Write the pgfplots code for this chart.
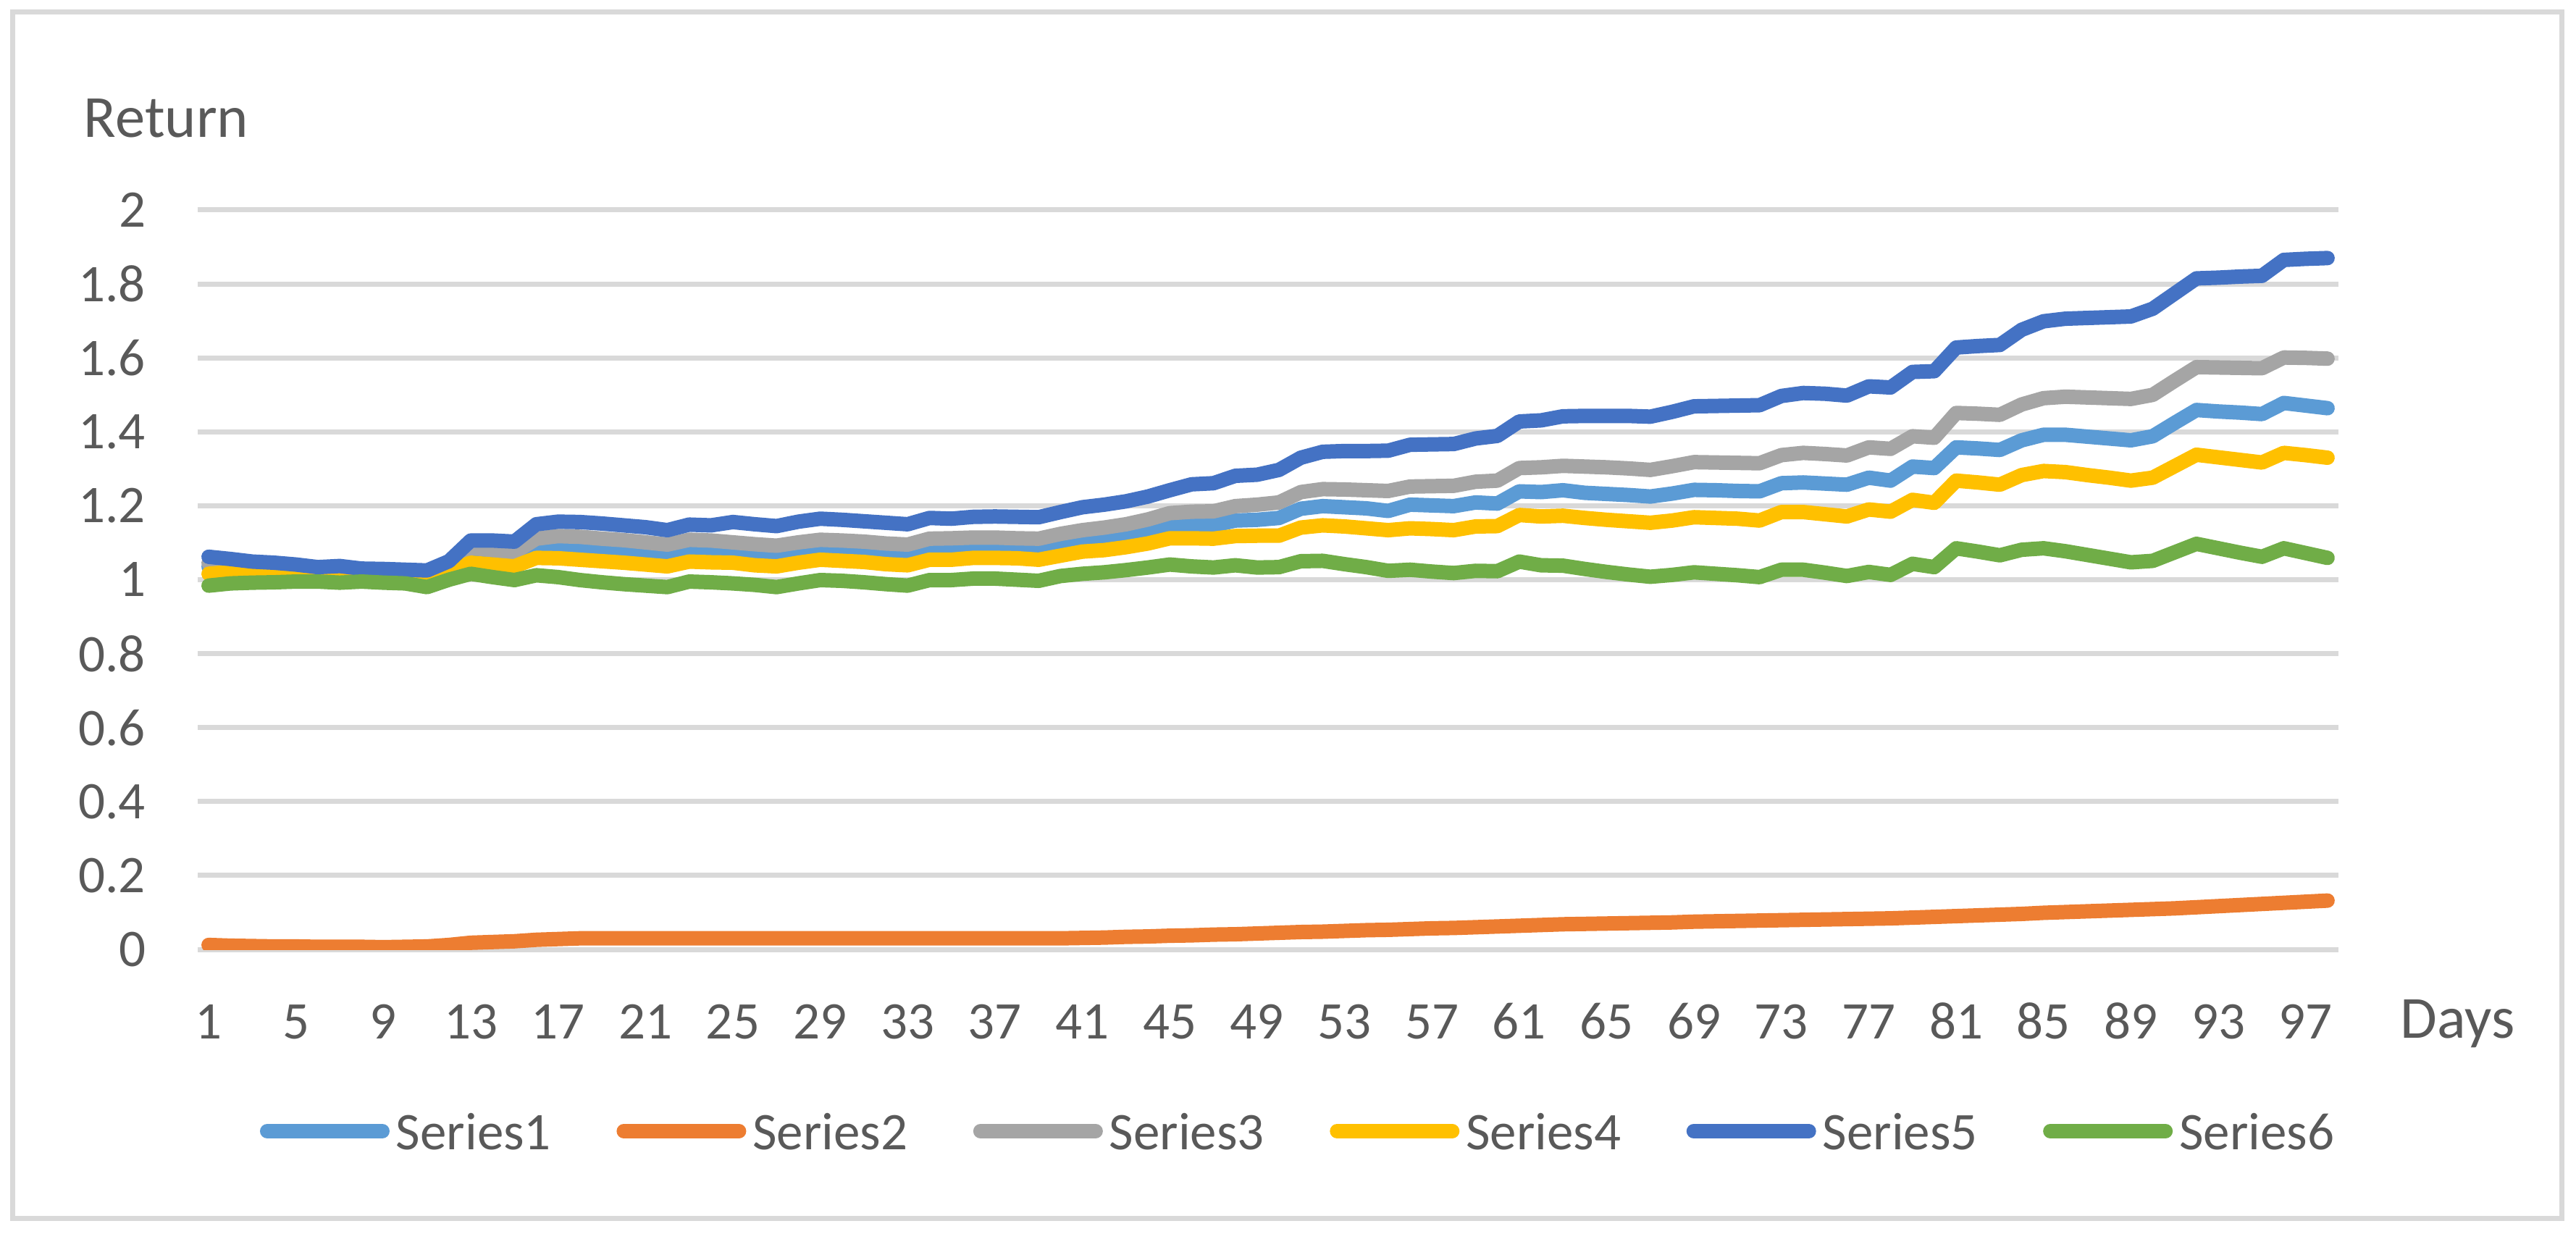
\documentclass[border=0pt]{standalone}
\usepackage{fontspec}
\setmainfont{Carlito}
\usepackage{pgfplots}
\usepackage{pgfplotstable}
\pgfplotsset{compat=1.18}
\definecolor{sA}{HTML}{5B9BD5}
\definecolor{sB}{HTML}{ED7D31}
\definecolor{sC}{HTML}{A5A5A5}
\definecolor{sD}{HTML}{FFC000}
\definecolor{sE}{HTML}{4472C4}
\definecolor{sF}{HTML}{70AD47}
\definecolor{gridc}{HTML}{D9D9D9}
\definecolor{textc}{HTML}{595959}
\newcommand{\cf}{\fontsize{14.6bp}{17.5bp}\selectfont}
\newcommand{\tf}{\fontsize{16.5bp}{19.8bp}\selectfont}

\pgfplotstableread{
d s1 s2 s3 s4 s5 s6
1 1.035 0.012 1.045 1.016 1.062 0.984
2 1.032 0.010 1.040 1.021 1.056 0.990
3 1.030 0.009 1.036 1.025 1.049 0.992
4 1.028 0.008 1.034 1.023 1.046 0.993
5 1.026 0.008 1.031 1.021 1.041 0.995
6 1.024 0.007 1.027 1.020 1.034 0.995
7 1.024 0.007 1.028 1.016 1.037 0.992
8 1.022 0.007 1.024 1.016 1.030 0.995
9 1.020 0.006 1.023 1.013 1.029 0.992
10 1.018 0.007 1.020 1.010 1.027 0.990
11 1.015 0.008 1.017 1.007 1.025 0.980
12 1.030 0.012 1.035 1.023 1.050 1.000
13 1.075 0.018 1.086 1.046 1.106 1.016
14 1.068 0.020 1.080 1.041 1.106 1.007
15 1.063 0.022 1.074 1.036 1.103 0.999
16 1.083 0.026 1.111 1.059 1.150 1.012
17 1.087 0.028 1.118 1.058 1.157 1.007
18 1.084 0.030 1.116 1.054 1.156 0.999
19 1.080 0.030 1.111 1.050 1.152 0.993
20 1.076 0.030 1.107 1.046 1.147 0.988
21 1.072 0.030 1.101 1.041 1.142 0.984
22 1.066 0.030 1.095 1.036 1.134 0.980
23 1.078 0.030 1.108 1.049 1.149 0.995
24 1.076 0.030 1.106 1.047 1.147 0.993
25 1.074 0.030 1.101 1.046 1.156 0.990
26 1.067 0.030 1.096 1.039 1.150 0.986
27 1.063 0.030 1.092 1.036 1.145 0.980
28 1.072 0.030 1.101 1.046 1.157 0.990
29 1.080 0.030 1.108 1.054 1.165 0.999
30 1.078 0.030 1.106 1.051 1.162 0.997
31 1.075 0.030 1.103 1.048 1.158 0.993
32 1.071 0.030 1.098 1.042 1.154 0.988
33 1.068 0.030 1.095 1.039 1.150 0.984
34 1.082 0.030 1.111 1.054 1.167 0.999
35 1.082 0.030 1.112 1.054 1.165 0.999
36 1.087 0.030 1.114 1.059 1.170 1.003
37 1.086 0.030 1.114 1.059 1.171 1.003
38 1.084 0.030 1.112 1.058 1.170 1.000
39 1.082 0.030 1.111 1.054 1.169 0.997
40 1.095 0.030 1.124 1.065 1.183 1.010
41 1.108 0.031 1.134 1.076 1.196 1.016
42 1.114 0.032 1.141 1.080 1.203 1.020
43 1.124 0.034 1.150 1.088 1.212 1.026
44 1.134 0.035 1.163 1.098 1.225 1.033
45 1.147 0.037 1.180 1.112 1.242 1.041
46 1.147 0.038 1.184 1.112 1.258 1.036
47 1.147 0.040 1.185 1.111 1.261 1.033
48 1.160 0.041 1.199 1.118 1.281 1.039
49 1.162 0.043 1.203 1.119 1.284 1.033
50 1.167 0.045 1.209 1.119 1.297 1.034
51 1.192 0.047 1.237 1.141 1.330 1.050
52 1.199 0.048 1.245 1.147 1.346 1.051
53 1.196 0.050 1.244 1.144 1.348 1.042
54 1.193 0.052 1.242 1.139 1.348 1.034
55 1.186 0.053 1.240 1.134 1.349 1.024
56 1.203 0.055 1.252 1.139 1.365 1.027
57 1.201 0.057 1.253 1.137 1.366 1.022
58 1.199 0.058 1.254 1.134 1.367 1.018
59 1.209 0.060 1.265 1.144 1.382 1.024
60 1.206 0.062 1.268 1.145 1.389 1.023
61 1.239 0.064 1.302 1.175 1.428 1.049
62 1.237 0.066 1.304 1.171 1.431 1.039
63 1.242 0.068 1.308 1.173 1.442 1.038
64 1.235 0.069 1.306 1.167 1.443 1.029
65 1.232 0.070 1.304 1.162 1.443 1.021
66 1.229 0.071 1.301 1.158 1.443 1.014
67 1.225 0.072 1.297 1.154 1.441 1.008
68 1.233 0.073 1.307 1.160 1.454 1.013
69 1.243 0.075 1.318 1.169 1.469 1.020
70 1.242 0.076 1.317 1.167 1.470 1.016
71 1.240 0.077 1.316 1.165 1.471 1.012
72 1.239 0.078 1.315 1.160 1.472 1.007
73 1.261 0.079 1.337 1.183 1.497 1.027
74 1.263 0.080 1.343 1.183 1.505 1.027
75 1.260 0.081 1.340 1.177 1.503 1.019
76 1.257 0.082 1.336 1.171 1.498 1.010
77 1.276 0.083 1.358 1.190 1.523 1.021
78 1.268 0.084 1.354 1.184 1.520 1.013
79 1.306 0.086 1.388 1.216 1.562 1.043
80 1.302 0.088 1.384 1.208 1.564 1.034
81 1.358 0.090 1.451 1.268 1.628 1.085
82 1.355 0.092 1.449 1.263 1.632 1.076
83 1.351 0.094 1.446 1.257 1.635 1.066
84 1.377 0.096 1.474 1.283 1.676 1.081
85 1.392 0.099 1.491 1.294 1.699 1.085
86 1.392 0.101 1.495 1.291 1.706 1.077
87 1.387 0.103 1.493 1.283 1.708 1.067
88 1.382 0.105 1.491 1.276 1.710 1.057
89 1.377 0.107 1.489 1.268 1.712 1.047
90 1.388 0.109 1.500 1.276 1.733 1.051
91 1.424 0.111 1.538 1.307 1.774 1.074
92 1.459 0.114 1.575 1.338 1.815 1.097
93 1.455 0.117 1.574 1.331 1.817 1.085
94 1.452 0.120 1.573 1.324 1.820 1.073
95 1.448 0.123 1.572 1.317 1.822 1.062
96 1.478 0.126 1.601 1.343 1.865 1.085
97 1.471 0.129 1.600 1.337 1.868 1.072
98 1.464 0.132 1.598 1.330 1.870 1.059
}\datatable

\begin{document}
\begin{tikzpicture}
\useasboundingbox (-54.6bp,-78.6bp) rectangle (656.8bp,262.2bp);
\fill[white] (-54.6bp,-78.6bp) rectangle (656.8bp,262.2bp);
\draw[gridc, line width=1.4bp] (-51bp,-74.2bp) rectangle (652.8bp,258.8bp);
\begin{axis}[
  scale only axis,
  width=591.2bp, height=204.2bp,
  xmin=0.5, xmax=98.5, ymin=0, ymax=2,
  clip mode=individual,
  xtick={1,5,...,97},
  ytick={0,0.2,0.4,0.6,0.8,1,1.2,1.4,1.6,1.8,2},
  ymajorgrids,
  grid style={gridc, line width=1.4bp},
  axis line style={draw=none},
  major tick style={draw=none},
  tick label style={font=\cf, text=textc, inner sep=0pt},
  /pgf/number format/assume math mode=true,
  yticklabel style={anchor=east, xshift=-14.2bp},
  xticklabel style={anchor=base, yshift=-24.6bp},
  every axis plot/.append style={line width=4bp, line join=round, line cap=round},
  legend columns=6,
  legend cell align=left,
  legend style={draw=none, fill=none, inner sep=0pt,
    at={(0,0)}, anchor=west, xshift=15bp, yshift=-50.2bp,
    nodes={inner sep=0pt, text depth=0pt, font=\cf, text=textc},
    /tikz/every even column/.append style={column sep=16.1bp},
    /tikz/every odd column/.append style={column sep=1.8bp}},
  legend image code/.code={\draw[#1, line width=4bp, line cap=round] (2bp,0bp) -- (33.8bp,0bp); \path (0bp,0bp) (31.4bp,0bp);},
]
\addplot[sA] table[x=d, y=s1] {\datatable};
\addlegendentry{Series1}
\addplot[sB] table[x=d, y=s2] {\datatable};
\addlegendentry{Series2}
\addplot[sC] table[x=d, y=s3] {\datatable};
\addlegendentry{Series3}
\addplot[sD] table[x=d, y=s4] {\datatable};
\addlegendentry{Series4}
\addplot[sE] table[x=d, y=s5] {\datatable};
\addlegendentry{Series5}
\addplot[sF] table[x=d, y=s6] {\datatable};
\addlegendentry{Series6}
\node[anchor=base west, font=\tf, text=textc, inner sep=0pt, xshift=-31.6bp, yshift=20bp] at (rel axis cs:0,1) {Return};
\node[anchor=base west, font=\tf, text=textc, inner sep=0pt, xshift=17bp, yshift=-24.4bp] at (rel axis cs:1,0) {Days};
\end{axis}
\end{tikzpicture}
\end{document}
